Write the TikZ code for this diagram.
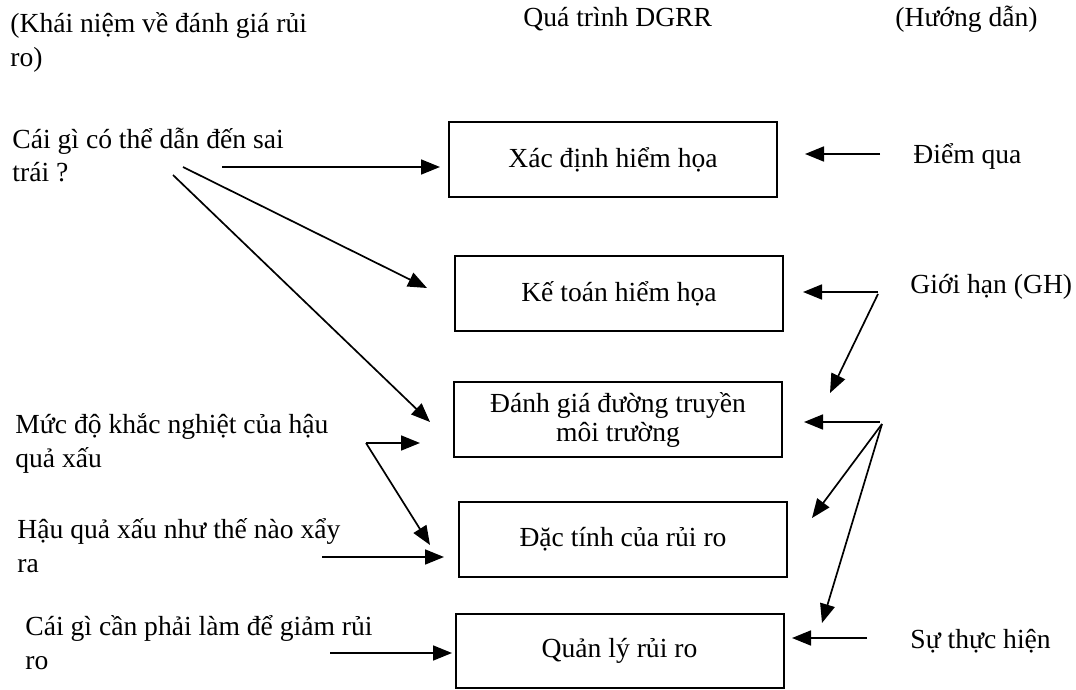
\documentclass[tikz,border=0pt]{standalone}
\usepackage{fontspec}
\setmainfont{Liberation Serif}
\usetikzlibrary{arrows.meta}

\tikzset{
  buoc/.style={draw, line width=1pt, minimum width=164pt, minimum height=37.5pt,
    align=center, inner sep=0pt, font=\fontsize{13.8}{14.5}\selectfont},
  ghichu/.style={anchor=base west, align=left, inner sep=0pt,
    font=\fontsize{13.8}{17}\selectfont},
  muiten/.style={-{Triangle[length=9.5pt,width=7.5pt]}, line width=0.85pt},
}

\begin{document}
\begin{tikzpicture}[x=0.5pt, y=-0.5pt]
  \useasboundingbox (0,0) rectangle (1076,690);

  % column headings (two-line texts sit on their last baseline)
  \node [ghichu] (khainiem) at (10,67) {(Khái niệm về đánh giá rủi\\ro)};
  \node [ghichu] (quatrinh) at (523,27) {Quá trình DGRR};
  \node [ghichu] (huongdan) at (895,27) {(Hướng dẫn)};

  % process steps
  \node [buoc] (xacdinh) at (613,159.5) {Xác định hiểm họa};
  \node [buoc] (ketoan) at (619,293.5) {Kế toán hiểm họa};
  \node [buoc] (danhgia) at (618,419.5) {Đánh giá đường truyền\\môi trường};
  \node [buoc] (dactinh) at (623,539.5) {Đặc tính của rủi ro};
  \node [buoc, minimum height=37pt] (quanly) at (619.5,651) {Quản lý rủi ro};

  % questions on the left
  \node [ghichu] (caigi) at (12,182) {Cái gì có thể dẫn đến sai\\trái ?};
  \node [ghichu] (mucdo) at (15,467) {Mức độ khắc nghiệt của hậu\\quả xấu};
  \node [ghichu] (hauqua) at (17,572) {Hậu quả xấu như thế nào xẩy\\ra};
  \node [ghichu] (giamrui) at (25,669) {Cái gì cần phải làm để giảm rủi\\ro};

  % guidance on the right
  \node [ghichu] (diemqua) at (913,163) {Điểm qua};
  \node [ghichu] (gioihan) at (910,293) {Giới hạn (GH)};
  \node [ghichu] (thuchien) at (910,648) {Sự thực hiện};

  % free ends of the arrows
  \coordinate (caigi-a) at (222,167);
  \coordinate (caigi-b) at (183,167);
  \coordinate (caigi-c) at (173,175);
  \coordinate (mucdo-o) at (366,443);
  \coordinate (hauqua-o) at (322,557);
  \coordinate (giamrui-o) at (330,653);
  \coordinate (diemqua-o) at (880,154);
  \coordinate (gioihan-o) at (878,292);
  \coordinate (gioihan-d) at (878,294);
  \coordinate (phai-o) at (880,422);
  \coordinate (phai-d) at (882,424);
  \coordinate (thuchien-o) at (867,638);

  \coordinate (xacdinh-l) at (440,167);
  \coordinate (ketoan-l) at (427,288);
  \coordinate (danhgia-l1) at (430,422);
  \coordinate (danhgia-l2) at (420,443);
  \coordinate (dactinh-l1) at (430,545);
  \coordinate (dactinh-l2) at (444,557);
  \coordinate (quanly-l) at (452,653);
  \coordinate (xacdinh-r) at (805,154);
  \coordinate (ketoan-r) at (803,292);
  \coordinate (danhgia-r1) at (830,393);
  \coordinate (danhgia-r2) at (804,422);
  \coordinate (dactinh-r) at (812,518);
  \coordinate (quanly-r1) at (822,623);
  \coordinate (quanly-r2) at (792,638);

  \draw [muiten] (caigi-a) -- (xacdinh-l);
  \draw [muiten] (caigi-b) -- (ketoan-l);
  \draw [muiten] (caigi-c) -- (danhgia-l1);
  \draw [muiten] (mucdo-o) -- (danhgia-l2);
  \draw [muiten] (mucdo-o) -- (dactinh-l1);
  \draw [muiten] (hauqua-o) -- (dactinh-l2);
  \draw [muiten] (giamrui-o) -- (quanly-l);

  \draw [muiten] (diemqua-o) -- (xacdinh-r);
  \draw [muiten] (gioihan-o) -- (ketoan-r);
  \draw [muiten] (gioihan-d) -- (danhgia-r1);
  \draw [muiten] (phai-o) -- (danhgia-r2);
  \draw [muiten] (phai-d) -- (dactinh-r);
  \draw [muiten] (phai-d) -- (quanly-r1);
  \draw [muiten] (thuchien-o) -- (quanly-r2);
\end{tikzpicture}
\end{document}
